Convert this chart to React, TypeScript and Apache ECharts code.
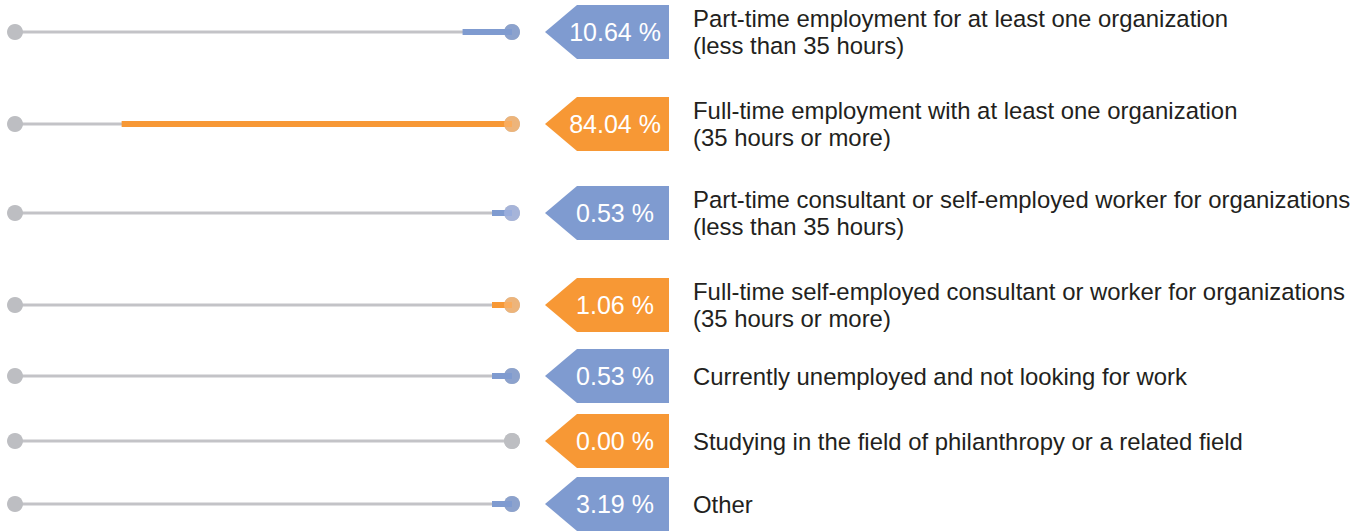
import React, { useEffect, useRef } from "react";
import * as echarts from "echarts";

const categories = [
  "Part-time employment for at least one organization\n(less than 35 hours)",
  "Full-time employment with at least one organization\n(35 hours or more)",
  "Part-time consultant or self-employed worker for organizations\n(less than 35 hours)",
  "Full-time self-employed consultant or worker for organizations\n(35 hours or more)",
  "Currently unemployed and not looking for work",
  "Studying in the field of philanthropy or a related field",
  "Other",
];
const values = [10.64, 84.04, 0.53, 1.06, 0.53, 0.0, 3.19];

const BLUE = "#7f9bd0";
const ORANGE = "#f79835";
const GRAY_DOT = "#bdbec2";
const GRAY_LINE = "#c3c3c7";
const boxColors = [BLUE, ORANGE, BLUE, ORANGE, BLUE, ORANGE, BLUE];
const barColors = [BLUE, ORANGE, BLUE, ORANGE, BLUE, ORANGE, BLUE];
const dotColors = [BLUE, "#f9b168", "#a0b2de", "#f9b168", BLUE, GRAY_DOT, BLUE];

// layout
const rowCenters = [32, 124, 213, 305, 376, 441, 504];
const AXIS_MAX = 107;

export default function App() {
  const ref = useRef<HTMLDivElement>(null);
  useEffect(() => {
    if (!ref.current) return;
    const chart = echarts.init(ref.current, undefined, { renderer: "svg" });
    const grids: any[] = [];
    const xAxes: any[] = [];
    const yAxes: any[] = [];
    const series: any[] = [];
    categories.forEach((cat, i) => {
      const cy = rowCenters[i];
      grids.push({ left: 15, width: 497, top: cy - 10, height: 20, containLabel: false });
      xAxes.push({ type: "value", gridIndex: i, min: 0, max: AXIS_MAX, inverse: true, show: false });
      yAxes.push({
        type: "category",
        gridIndex: i,
        data: [cat],
        position: "right",
        axisLine: { show: false },
        axisTick: { show: false },
        splitLine: { show: false },
        axisLabel: {
          margin: 181,
          align: "left",
          fontFamily: "Liberation Sans",
          fontSize: 23.9,
          lineHeight: 27,
          color: "#231f20",
        },
      });
      const v = values[i];
      series.push({
        type: "line",
        xAxisIndex: i,
        yAxisIndex: i,
        data: [[AXIS_MAX, 0], [0, 0]],
        symbol: "circle",
        symbolSize: 16,
        itemStyle: { color: GRAY_DOT },
        lineStyle: { color: GRAY_LINE, width: 3 },
        z: 2,
        silent: true,
      });
      series.push({
        type: "bar",
        xAxisIndex: i,
        yAxisIndex: i,
        data: [{ value: v, itemStyle: { color: barColors[i], opacity: v === 0 ? 0 : 1 } }],
        barWidth: 6,
        barMinHeight: 20,
        z: 3,
      });
      series.push({
        type: "scatter",
        xAxisIndex: i,
        yAxisIndex: i,
        data: [[0, 0]],
        symbol: "circle",
        symbolSize: 16,
        itemStyle: { color: dotColors[i] },
        z: 4,
      });
      const label = v.toFixed(2) + " %";
      const fill = boxColors[i];
      series.push({
        type: "custom",
        xAxisIndex: i,
        yAxisIndex: i,
        clip: false,
        z: 5,
        data: [[v, 0]],
        renderItem: (_params: any, api: any) => {
          const p = api.coord([0, 0]);
          const x = p[0] + 33;
          const y = p[1];
          const h = 27;
          return {
            type: "group",
            children: [
              {
                type: "polygon",
                shape: {
                  points: [
                    [x, y],
                    [x + 32, y - h],
                    [x + 124, y - h],
                    [x + 124, y + h],
                    [x + 32, y + h],
                  ],
                },
                style: { fill },
              },
              {
                type: "text",
                x: x + 70,
                y: y,
                style: {
                  text: label,
                  fill: "#ffffff",
                  font: "25px Liberation Sans",
                  align: "center",
                  verticalAlign: "middle",
                },
              },
            ],
          };
        },
      });
    });
    chart.setOption({
      animation: false,
      grid: grids,
      xAxis: xAxes,
      yAxis: yAxes,
      series,
    });
    return () => chart.dispose();
  }, []);
  return (
    <div
      ref={ref}
      style={{ position: "fixed", left: 0, top: 0, width: 1366, height: 531, background: "#fff" }}
    />
  );
}
